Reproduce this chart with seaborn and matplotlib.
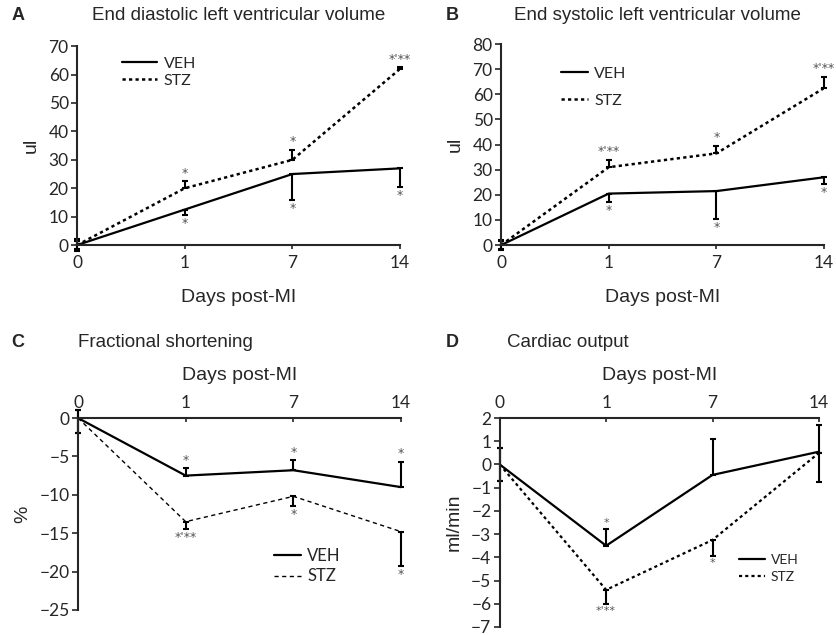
import numpy as np
import pandas as pd
import seaborn as sns
import matplotlib.pyplot as plt

# x categories (days post-MI)
days = ["0", "1", "7", "14"]

# A: end diastolic LV volume (ul)
edv_veh = [0, 12.5, 25, 27]
edv_veh_lo = [1.5, 2.0, 9.0, 6.5]
edv_veh_hi = [1.5, 0, 0, 0]
edv_stz = [0, 20, 30, 62]
edv_stz_lo = [2.0, 0, 0, 0]
edv_stz_hi = [2.0, 2.5, 3.5, 0.5]
edv_veh_sig = ["", "*", "*", "*"]
edv_stz_sig = ["", "*", "*", "*'**"]

# B: end systolic LV volume (ul)
esv_veh = [0, 20.5, 21.5, 27]
esv_veh_lo = [1.5, 3.5, 11.0, 2.5]
esv_veh_hi = [1.5, 0, 0, 0]
esv_stz = [0, 31, 36.5, 62.5]
esv_stz_lo = [2.0, 0, 0, 0]
esv_stz_hi = [2.0, 3.0, 3.0, 4.5]
esv_veh_sig = ["", "*", "*", "*"]
esv_stz_sig = ["", "*'**", "*", "*'**"]

# C: fractional shortening (%)
fs_veh = [0, -7.5, -6.8, -9.0]
fs_veh_lo = [2.0, 0, 0, 0]
fs_veh_hi = [1.0, 1.0, 1.3, 3.3]
fs_stz = [0, -13.5, -10.2, -14.8]
fs_stz_lo = [2.0, 1.0, 1.3, 4.5]
fs_stz_hi = [1.0, 0, 0, 0]
fs_veh_sig = ["", "*", "*", "*"]
fs_stz_sig = ["", "*'**", "*", "*"]

# D: cardiac output (ml/min)
co_veh = [0, -3.5, -0.45, 0.55]
co_veh_lo = [0.7, 0, 0, 1.3]
co_veh_hi = [0.7, 0.7, 1.55, 1.15]
co_stz = [0, -5.4, -3.25, 0.5]
co_stz_lo = [0.7, 0.6, 0.7, 0]
co_stz_hi = [0.7, 0, 0, 0]
co_veh_sig = ["", "*", "", ""]
co_stz_sig = ["", "*'**", "*", ""]

sns.set_style("ticks")
plt.rcParams['font.family'] = ['Liberation Sans', 'DejaVu Sans']
TICKFONT = 'Lato'

fig = plt.figure(figsize=(8.37, 6.35), dpi=100)

pos = np.arange(len(days))


def star(ax, vals, lo, hi, sig, up, fs):
    for i, s in enumerate(sig):
        if not s:
            continue
        if up:
            ax.annotate(s, (pos[i], vals[i] + hi[i]), xytext=(0, 1), textcoords='offset points',
                        ha='center', va='bottom', fontsize=fs, color='#555555', family='DejaVu Sans',
                        annotation_clip=False)
        else:
            ax.annotate(s, (pos[i], vals[i] - lo[i]), xytext=(0, -1.5), textcoords='offset points',
                        ha='center', va='top', fontsize=fs, color='#555555', family='DejaVu Sans',
                        annotation_clip=False)


def panel(rect, veh, veh_lo, veh_hi, stz, stz_lo, stz_hi, veh_sig, stz_sig,
          veh_up, stz_up, ylim, yticks, ylabel, top, dash_lw, dash, leg_anchor, leg_space,
          leg_fs, hlen, star_fs):
    ax = fig.add_axes(rect)
    df = pd.DataFrame({'pos': np.concatenate([pos, pos]),
                       'value': veh + stz,
                       'group': ['VEH'] * 4 + ['STZ'] * 4})
    sns.lineplot(data=df[df.group == 'VEH'], x='pos', y='value', color='black', lw=1.6,
                 ax=ax, label='VEH')
    sns.lineplot(data=df[df.group == 'STZ'], x='pos', y='value', color='black', lw=dash_lw,
                 ls=dash, ax=ax, label='STZ')
    for vals, lo, hi in [(veh, veh_lo, veh_hi), (stz, stz_lo, stz_hi)]:
        ax.errorbar(pos, vals, yerr=[lo, hi], fmt='none', ecolor='black', elinewidth=1.5,
                    capsize=2, capthick=1.5, clip_on=False)
    star(ax, veh, veh_lo, veh_hi, veh_sig, veh_up, star_fs)
    star(ax, stz, stz_lo, stz_hi, stz_sig, stz_up, star_fs)
    ax.set_xlim(0, 3)
    ax.set_ylim(*ylim)
    ax.set_yticks(yticks)
    ax.set_xticks(pos)
    ax.set_xticklabels(days)
    ax.tick_params(axis='both', labelsize=12.5, labelfontfamily=TICKFONT)
    ax.set_ylabel(ylabel, fontsize=14, labelpad=6)
    for sp in ax.spines.values():
        sp.set_linewidth(1.5)
    ax.spines['right'].set_visible(False)
    if top:
        ax.spines['bottom'].set_visible(False)
        ax.xaxis.tick_top()
        ax.xaxis.set_label_position('top')
        ax.tick_params(axis='x', direction='in', length=3, width=1.2, pad=5)
        ax.set_xlabel("Days post-MI", fontsize=14, labelpad=11)
    else:
        ax.spines['top'].set_visible(False)
        ax.tick_params(axis='x', direction='out', length=3, width=1.2, pad=4)
        ax.set_xlabel("Days post-MI", fontsize=14, labelpad=13)
    ax.tick_params(axis='y', direction='out', length=4, width=1.2, pad=2)
    leg = ax.legend(loc='upper left', bbox_to_anchor=leg_anchor, frameon=False,
                    handlelength=hlen, handletextpad=0.4, labelspacing=leg_space,
                    prop={'family': TICKFONT, 'size': leg_fs})
    for h in leg.get_lines():
        h.set_linewidth(1.6 if h.get_label() == 'VEH' else dash_lw)
    return ax


panel([0.092, 0.614, 0.386, 0.3134], edv_veh, edv_veh_lo, edv_veh_hi, edv_stz, edv_stz_lo,
      edv_stz_hi, edv_veh_sig, edv_stz_sig, False, True, (0, 70), range(0, 71, 10), "ul",
      False, 1.8, (0, (1.3, 1.3)), (0.095, 1.02), 0.2, 11.5, 2.2, 9)
panel([0.5986, 0.614, 0.386, 0.3166], esv_veh, esv_veh_lo, esv_veh_hi, esv_stz, esv_stz_lo,
      esv_stz_hi, esv_veh_sig, esv_stz_sig, False, True, (0, 80), range(0, 81, 10), "ul",
      False, 1.8, (0, (1.3, 1.3)), (0.14, 0.96), 0.8, 11.5, 1.7, 9)
panel([0.0932, 0.0394, 0.386, 0.3023], fs_veh, fs_veh_lo, fs_veh_hi, fs_stz, fs_stz_lo,
      fs_stz_hi, fs_veh_sig, fs_stz_sig, True, False, (-25, 0), range(0, -26, -5), "%",
      True, 1.0, (0, (3, 2.5)), (0.56, 0.40), 0.25, 12, 1.6, 9)
panel([0.597, 0.0126, 0.3815, 0.3291], co_veh, co_veh_lo, co_veh_hi, co_stz, co_stz_lo,
      co_stz_hi, co_veh_sig, co_stz_sig, True, False, (-7, 2), range(2, -8, -1), "ml/min",
      True, 1.6, (0, (1.4, 1.4)), (0.71, 0.41), 0.35, 10, 1.9, 8)

# panel letters and titles
fig.text(0.014, 0.976, "A", fontsize=13, fontweight='bold', va='center')
fig.text(0.285, 0.976, "End diastolic left ventricular volume", fontsize=13.5, va='center', ha='center')
fig.text(0.532, 0.976, "B", fontsize=13, fontweight='bold', va='center')
fig.text(0.785, 0.976, "End systolic left ventricular volume", fontsize=13.5, va='center', ha='center')
fig.text(0.014, 0.46, "C", fontsize=13, fontweight='bold', va='center')
fig.text(0.093, 0.46, "Fractional shortening", fontsize=13.5, va='center')
fig.text(0.532, 0.46, "D", fontsize=13, fontweight='bold', va='center')
fig.text(0.606, 0.46, "Cardiac output", fontsize=13.5, va='center')

fig.savefig("out.png", dpi=100)
